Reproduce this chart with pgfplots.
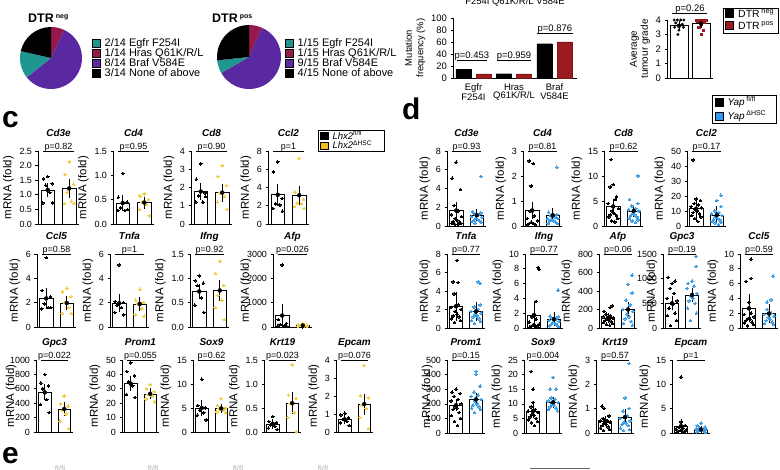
\documentclass[border=0pt]{standalone}
\usepackage{fontspec}
\setmainfont{Liberation Sans}
\usepackage{pgfplots}
\pgfplotsset{compat=1.18}
\definecolor{cteal}{HTML}{1F968F}
\definecolor{cmag}{HTML}{96194B}
\definecolor{cpur}{HTML}{5A28A0}
\definecolor{cred}{HTML}{9B1B1E}
\definecolor{cyel}{HTML}{F2CF45}
\definecolor{cyelL}{HTML}{F5BC14}
\definecolor{cblu}{HTML}{3A9FE8}
\definecolor{cbluL}{HTML}{2F98F0}
\newcommand\ply{1.0}
\pgfplotsset{
  every axis/.append style={/pgf/number format/assume math mode=true},
  mini/.style={scale only axis, anchor=south west, xmin=0.55, xmax=2.45, ymin=0,
    axis x line=bottom, axis y line=left, axis line style={-, line width=0.6pt},
    xtick=\empty, tick align=outside, major tick length=2.5bp,
    ytick style={line width=0.6pt, black},
    ylabel={mRNA (fold)}, ylabel style={font=\fontsize{11.5}{12}\selectfont, yshift=-1bp},
    yticklabel style={font=\fontsize{9}{9}\selectfont},
    title style={font=\fontsize{10}{11}\selectfont\bfseries\itshape, at={(0.5,1)}, anchor=base, yshift=9bp},
    scaled y ticks=false, /pgf/number format/1000 sep={},
    clip=false},
  ylat/.style={ylabel style={at={(axis description cs:#1,0.5)}, anchor=center}},
  dec/.style={yticklabel style={/pgf/number format/.cd, fixed, fixed zerofill, precision=1}},
  cA/.style={width=41bp, height=73bp},
  cB/.style={width=39bp, height=73bp},
  cC/.style={width=37bp, height=72bp},
  dA/.style={width=39bp, height=75bp},
  dB/.style={width=38bp, height=74bp},
  dC/.style={width=38bp, height=73bp},
}
\newcommand\mini[9]{%
\begin{axis}[mini,#1]
\addplot[ybar, bar width=0.64, bar shift=0pt, draw=black, fill=white, line width=0.6pt] coordinates {(1,#2) (2,#4)};
\addplot[only marks, mark=*, mark size=1.3bp, mark options={draw=black, fill=black, line width=0pt}] coordinates {#6};
\addplot[only marks, mark=*, mark size=1.3bp, mark options={draw=#8, fill=#8, line width=0pt}] coordinates {#7};
\addplot[only marks, mark=none, error bars/.cd, y dir=both, y explicit, error bar style={black, line width=0.6pt}, error mark options={black, mark size=3bp, line width=0.6pt}] coordinates {(1,#2) +- (0,#3) (2,#4) +- (0,#5)};
\draw[line width=0.6pt] (rel axis cs:0.13,\ply) -- (rel axis cs:0.87,\ply);
\node[anchor=base, inner sep=0pt, yshift=1.6bp, font=\fontsize{9}{9}\selectfont] at (rel axis cs:0.5,\ply) {#9};
\end{axis}}
% legend row: x, y-centre, colour, text, font size, square half-height
\newcommand\legrow[6]{%
\draw[fill=#3, draw=black, line width=0.4pt] (#1bp,#2bp-#6bp) rectangle (#1bp+8bp,#2bp+#6bp);
\node[anchor=base west, inner sep=0pt, font=\fontsize{#5}{#5}\selectfont] at (#1bp+12.5bp,#2bp-0.36*#5bp) {#4};}
\begin{document}
\begin{tikzpicture}
\useasboundingbox (0,0) rectangle (780bp,470bp);
% ---------------- pies ----------------
\fill[cmag] (51bp,412bp) -- ++(90:31bp) arc[start angle=90, end angle=64.29, radius=31bp] -- cycle;
\fill[cpur] (51bp,412bp) -- ++(64.29:31bp) arc[start angle=64.29, end angle=-141.43, radius=31bp] -- cycle;
\fill[cteal] (51bp,412bp) -- ++(-141.43:31bp) arc[start angle=-141.43, end angle=-192.86, radius=31bp] -- cycle;
\fill[black] (51bp,412bp) -- ++(-192.86:31bp) arc[start angle=-192.86, end angle=-270, radius=31bp] -- cycle;
\fill[cmag] (249bp,413bp) -- ++(90:32bp) arc[start angle=90, end angle=66, radius=32bp] -- cycle;
\fill[cpur] (249bp,413bp) -- ++(66:32bp) arc[start angle=66, end angle=-150, radius=32bp] -- cycle;
\fill[cteal] (249bp,413bp) -- ++(-150:32bp) arc[start angle=-150, end angle=-174, radius=32bp] -- cycle;
\fill[black] (249bp,413bp) -- ++(-174:32bp) arc[start angle=-174, end angle=-270, radius=32bp] -- cycle;
\node[anchor=base west, inner sep=0pt, font=\fontsize{12.5}{13}\selectfont\bfseries] at (28bp,447bp) {DTR\,\raisebox{4.5bp}{\fontsize{7}{8}\selectfont neg}};
\node[anchor=base west, inner sep=0pt, font=\fontsize{12.5}{13}\selectfont\bfseries] at (212bp,447bp) {DTR\,\raisebox{4.5bp}{\fontsize{7}{8}\selectfont pos}};
\legrow{92}{427}{cteal}{2/14 Egfr F254I}{11}{3.8}
\legrow{92}{417}{cmag}{1/14 Hras Q61K/R/L}{11}{3.8}
\legrow{92}{407}{cpur}{8/14 Braf V584E}{11}{3.8}
\legrow{92}{397}{black}{3/14 None of above}{11}{3.8}
\legrow{285}{427}{cteal}{1/15 Egfr F254I}{11}{3.8}
\legrow{285}{417}{cmag}{1/15 Hras Q61K/R/L}{11}{3.8}
\legrow{285}{407}{cpur}{9/15 Braf V584E}{11}{3.8}
\legrow{285}{397}{black}{4/15 None of above}{11}{3.8}
% ---------------- mutation frequency ----------------
\node[anchor=base, inner sep=0pt, font=\fontsize{9.5}{10}\selectfont] at (515bp,465bp) {F254I Q61K/R/L V584E};
\begin{axis}[scale only axis, anchor=south west, at={(453bp,392bp)}, width=124bp, height=60bp,
  xmin=-0.506, xmax=2.556, ymin=0, ymax=100, ytick={0,20,40,60,80,100},
  axis x line=bottom, axis y line=left, axis line style={-, line width=0.6pt},
  xtick={0,1,2}, xticklabels={{Egfr\\F254I},{Hras\\Q61K/R/L},{Braf\\V584E}},
  xtick style={draw=none}, xticklabel style={align=center, font=\fontsize{9.5}{8.5}\selectfont},
  yticklabel style={font=\fontsize{9.5}{9}\selectfont}, tick align=outside, major tick length=2.5bp,
  ytick style={line width=0.6pt, black},
  ylabel={Mutation\\frequency (\%)}, ylabel style={align=center, font=\fontsize{9.5}{11.5}\selectfont, yshift=-1bp},
  clip=false]
\addplot[ybar, bar width=0.37, bar shift=-0.25, fill=black, draw=black] coordinates {(0,14.29) (1,7.14) (2,57.14)};
\addplot[ybar, bar width=0.37, bar shift=0.25, fill=cred, draw=cred!80!black] coordinates {(0,6.67) (1,6.67) (2,60)};
\draw[line width=0.6pt] (axis cs:-0.407,30) -- (axis cs:0.333,30);
\draw[line width=0.6pt] (axis cs:0.58,30) -- (axis cs:1.42,30);
\draw[line width=0.6pt] (axis cs:1.568,75) -- (axis cs:2.457,75);
\node[anchor=base, inner sep=0pt, yshift=1.8bp, font=\fontsize{9.5}{9}\selectfont] at (axis cs:-0.04,30) {p=0.453};
\node[anchor=base, inner sep=0pt, yshift=1.8bp, font=\fontsize{9.5}{9}\selectfont] at (axis cs:1.0,30) {p=0.959};
\node[anchor=base, inner sep=0pt, yshift=1.8bp, font=\fontsize{9.5}{9}\selectfont] at (axis cs:2.01,75) {p=0.876};
\end{axis}
% ---------------- tumour grade ----------------
\begin{axis}[scale only axis, anchor=south west, at={(667bp,392bp)}, width=46bp, height=58bp,
  xmin=0.455, xmax=2.545, ymin=0, ymax=4, ytick={0,1,2,3,4}, xtick=\empty,
  axis x line=bottom, axis y line=left, axis line style={-, line width=0.6pt},
  yticklabel style={font=\fontsize{9.5}{9}\selectfont}, tick align=outside, major tick length=2.5bp,
  ytick style={line width=0.6pt, black},
  ylabel={Average\\tumour grade}, ylabel style={align=center, font=\fontsize{10}{11}\selectfont, yshift=-1bp},
  clip=false]
\addplot[ybar, bar width=0.82, bar shift=0pt, draw=black, fill=white, line width=0.6pt] coordinates {(1,3.6) (2,3.75)};
\addplot[only marks, mark=*, mark size=1.3bp, mark options={draw=black, fill=black}] coordinates {(0.78,4)(0.92,4)(1.08,4)(1.22,4)(0.85,3.8)(1.15,3.7)(1.0,3.6)(0.8,3.5)(1.2,3.5)(1.0,3.3)(0.95,3.0)};
\addplot[only marks, mark=square*, mark size=1.2bp, mark options={draw=cred, fill=cred}] coordinates {(1.78,4)(1.89,4)(2.0,4)(2.11,4)(2.22,4)(1.85,3.9)(2.15,3.85)(2.0,3.7)(1.9,3.5)(2.1,3.3)(2.0,3.0)};
\addplot[only marks, mark=none, error bars/.cd, y dir=both, y explicit, error bar style={black, line width=0.6pt}, error mark options={black, mark size=3bp, line width=0.6pt}] coordinates {(1,3.6) +- (0,0.1) (2,3.75) +- (0,0.09)};
\draw[line width=0.6pt] (axis cs:0.68,4.48) -- (axis cs:2.27,4.48);
\node[anchor=base, inner sep=0pt, yshift=1.8bp, font=\fontsize{9.5}{9}\selectfont] at (axis cs:1.5,4.48) {p=0.26};
\end{axis}
\draw[line width=0.5pt] (723bp,437bp) rectangle (778bp,462bp);
\legrow{725.5}{456.5}{black}{DTR\,\textsuperscript{neg}}{10.5}{3.8}
\legrow{725.5}{444.5}{cred}{DTR\,\textsuperscript{pos}}{10.5}{3.8}
% ---------------- panel letters ----------------
\node[anchor=base west, inner sep=0pt, font=\fontsize{30}{30}\selectfont\bfseries] at (2bp,342bp) {c};
\node[anchor=base west, inner sep=0pt, font=\fontsize{30}{30}\selectfont\bfseries] at (402bp,350bp) {d};
\node[anchor=base west, inner sep=0pt, font=\fontsize{30}{30}\selectfont\bfseries] at (2bp,7bp) {e};
\foreach \xx in {60,153,238,323} {\node[anchor=north, inner sep=0pt, text=black!30, font=\fontsize{8}{8}\selectfont] at (\xx bp,4bp) {fl/fl};}
\draw[black!60, line width=0.6pt] (530bp,2bp) -- (590bp,2bp);
% ---------------- legends c, d ----------------
\draw[line width=0.5pt] (318bp,318.5bp) rectangle (384bp,340bp);
\legrow{320}{334}{black}{\textit{Lhx2}\textsuperscript{fl/fl}}{9.5}{3.4}
\legrow{320}{324.5}{cyelL}{\textit{Lhx2}\textsuperscript{ΔHSC}}{9.5}{3.4}
\draw[line width=0.5pt] (712bp,347bp) rectangle (776bp,375bp);
\legrow{715}{368}{black}{\textit{Yap}\,\textsuperscript{fl/fl}}{10}{3.8}
\legrow{715}{354}{cbluL}{\textit{Yap}\,\textsuperscript{ΔHSC}}{10}{3.8}
% ---------------- panel c row 1 ----------------
\mini{cA, at={(38bp,246bp)}, ymax=2.5, ytick={0,0.5,1,1.5,2,2.5}, dec, title=Cd3e}{1.17}{0.13}{1.22}{0.21}
{(1.0,1.62)(0.8,1.55)(1.2,1.38)(0.9,1.33)(1.1,1.08)(0.78,0.72)(1.22,0.72)}
{(2.0,2.13)(1.8,1.70)(2.2,1.36)(1.9,1.09)(2.1,0.78)(1.78,0.7)(2.22,0.7)}{cyel}{p=0.82}
\mini{cA, at={(113bp,246bp)}, ymax=1.5, ytick={0,0.5,1,1.5}, dec, title=Cd4}{0.43}{0.1}{0.44}{0.06}
{(1.0,1.04)(0.8,0.55)(1.2,0.45)(0.9,0.33)(1.1,0.28)(0.78,0.28)(1.22,0.3)}
{(2.0,0.62)(1.8,0.58)(2.2,0.5)(1.9,0.45)(2.1,0.4)(1.78,0.3)(2.22,0.17)}{cyel}{p=0.95}
\mini{cA, at={(191bp,246bp)}, ymax=4, ytick={0,1,2,3,4}, title=Cd8}{1.78}{0.3}{1.72}{0.33}
{(1.0,3.3)(0.8,2.45)(1.2,1.7)(0.9,1.55)(1.1,1.2)(0.78,1.2)(1.22,1.5)}
{(2.0,3.2)(1.8,2.6)(2.2,2.1)(1.9,1.7)(2.1,1.5)(1.78,1.2)(2.22,0.8)}{cyel}{p=0.90}
\mini{cA, at={(268bp,246bp)}, ymax=8, ytick={0,2,4,6,8}, title=Ccl2}{3.2}{0.85}{3.15}{0.72}
{(1.0,6.8)(0.8,5.7)(1.2,2.8)(0.9,2.2)(1.1,2.1)(0.78,1.7)(1.22,1.4)}
{(2.0,7.2)(1.8,3.5)(2.2,2.7)(1.9,2.3)(2.1,2.2)(1.78,1.9)(2.22,1.7)}{cyel}{p=1}
% ---------------- panel c row 2 ----------------
\mini{cB, at={(37bp,143bp)}, ymax=6, ytick={0,2,4,6}, title=Ccl5}{2.35}{0.6}{1.97}{0.35}
{(1.0,5.7)(0.8,3.0)(1.2,2.5)(0.9,1.9)(1.1,1.6)(0.78,1.5)(1.22,1.6)}
{(2.0,3.2)(1.8,2.9)(2.2,2.5)(1.9,2.0)(2.1,1.6)(1.78,1.1)(2.22,1.1)}{cyel}{p=0.58}
\mini{cB, at={(110bp,143bp)}, ymax=6, ytick={0,2,4,6}, title=Tnfa}{1.95}{0.5}{1.9}{0.3}
{(1.0,5.1)(0.8,2.1)(1.2,2.0)(0.9,1.8)(1.1,1.6)(0.78,1.2)(1.22,1.0)}
{(2.0,3.1)(1.8,2.2)(2.2,2.0)(1.9,1.9)(2.1,1.5)(1.78,1.0)(2.22,0.9)}{cyel}{p=1}
\mini{cB, at={(190bp,143bp)}, ymax=1.5, ytick={0,0.5,1,1.5}, dec, title=Ifng}{0.73}{0.1}{0.75}{0.15}
{(1.0,1.05)(0.8,0.95)(1.2,0.9)(0.9,0.85)(1.1,0.6)(0.78,0.45)(1.22,0.3)}
{(2.0,1.35)(1.8,1.1)(2.2,0.85)(1.9,0.65)(2.1,0.55)(1.78,0.4)(2.22,0.15)}{cyel}{p=0.92}
\mini{cB, at={(273bp,143bp)}, ymax=3000, ytick={0,1000,2000,3000}, ylat=-0.72, title=Afp}{470}{340}{60}{20}
{(1.0,2550)(0.8,300)(1.2,150)(0.9,100)(1.1,50)(0.78,30)(1.22,20)}
{(2.0,150)(1.8,100)(2.2,80)(1.9,60)(2.1,50)(1.78,40)(2.22,30)}{cyel}{p=0.026}
% ---------------- panel c row 3 ----------------
\mini{cC, at={(36bp,38bp)}, ymax=1000, ytick={0,200,400,600,800,1000}, ylat=-0.7, title=Gpc3}{550}{70}{320}{60}
{(1.0,800)(0.8,680)(1.2,640)(0.9,600)(1.1,450)(0.78,380)(1.22,270)}
{(2.0,500)(1.8,390)(2.2,360)(1.9,300)(2.1,250)(1.78,150)(2.22,50)}{cyel}{p=0.022}
\mini{cC, at={(122bp,38bp)}, ymax=50, ytick={0,10,20,30,40,50}, title=Prom1}{33.5}{3}{26.5}{1.7}
{(1.0,48)(0.8,42)(1.2,39)(0.9,35)(1.1,32)(0.78,26)(1.22,24)}
{(2.0,33)(1.8,30)(2.2,28)(1.9,26)(2.1,25)(1.78,23)(2.22,21)}{cyel}{p=0.055}
\mini{cC, at={(193bp,38bp)}, ymax=15, ytick={0,5,10,15}, title=Sox9}{5}{1.1}{4.9}{0.35}
{(1.0,11)(0.8,5.5)(1.2,5)(0.9,4.5)(1.1,4)(0.78,3.5)(1.22,2.5)}
{(2.0,7)(1.8,5.5)(2.2,5)(1.9,4.8)(2.1,4.5)(1.78,4.2)(2.22,4)}{cyel}{p=0.62}
\mini{cC, at={(264bp,38bp)}, ymax=1.5, ytick={0,0.5,1,1.5}, dec, title=Krt19}{0.17}{0.04}{0.6}{0.17}
{(1.0,0.32)(0.8,0.22)(1.2,0.2)(0.9,0.15)(1.1,0.12)(0.78,0.08)(1.22,0.05)}
{(2.0,1.4)(1.8,0.77)(2.2,0.7)(1.9,0.6)(2.1,0.4)(1.78,0.3)(2.22,0.0)}{cyel}{p=0.023}
\mini{cC, at={(336bp,38bp)}, ymax=4, ytick={0,1,2,3,4}, title=Epcam}{0.7}{0.08}{1.55}{0.42}
{(1.0,1.05)(0.8,0.95)(1.2,0.8)(0.9,0.7)(1.1,0.6)(0.78,0.5)(1.22,0.35)}
{(2.0,3.7)(1.8,2.0)(2.2,1.9)(1.9,1.5)(2.1,1.3)(1.78,0.8)(2.22,0.2)}{cyel}{p=0.076}
% ---------------- panel d row 1 ----------------
\mini{dA, at={(447bp,244bp)}, ymax=8, ytick={0,2,4,6,8}, title=Cd3e}{1.65}{0.55}{1.15}{0.35}
{(1,6.8)(0.8,5.1)(1.2,3.9)(0.9,2.2)(1.1,1.6)(0.75,1.2)(1.25,1.0)(0.95,0.8)(1.05,0.6)(0.85,0.5)(1.15,0.4)(0.78,0.3)(1.22,0.3)(0.92,0.2)(1.08,0.2)}
{(2.2,5.3)(1.8,1.5)(2.2,1.4)(1.9,1.3)(2.1,1.2)(1.75,1.0)(2.25,0.9)(1.95,0.8)(2.05,0.7)(1.85,0.6)(2.15,0.5)(1.78,0.5)(2.22,0.4)(1.92,0.3)}{cblu}{p=0.93}
\mini{dA, at={(523bp,244bp)}, ymax=3, ytick={0,1,2,3}, title=Cd4}{0.62}{0.23}{0.43}{0.16}
{(0.85,2.6)(1.05,2.5)(0.95,1.6)(0.9,0.6)(1.1,0.4)(0.75,0.3)(1.25,0.2)(0.95,0.15)(1.05,0.1)(0.85,0.1)(1.15,0.05)(0.78,0.05)}
{(2.2,2.35)(1.8,0.55)(2.2,0.45)(1.9,0.4)(2.1,0.35)(1.75,0.3)(2.25,0.3)(1.95,0.25)(2.05,0.2)(1.85,0.2)(2.15,0.15)(1.78,0.1)(2.22,0.1)}{cblu}{p=0.81}
\mini{dA, at={(604bp,244bp)}, ymax=15, ytick={0,5,10,15}, title=Cd8}{3.9}{0.9}{3.0}{0.65}
{(0.9,13.3)(1.0,8.3)(0.85,7.8)(1.15,5.8)(1.1,5.3)(0.75,4.5)(1.25,3.5)(0.95,3.0)(1.05,2.5)(0.85,2.2)(1.15,2.0)(0.78,1.8)(1.22,1.5)(0.92,1.0)(1.08,0.8)}
{(2.2,10)(1.8,5.3)(2.2,4.5)(1.9,4.0)(2.1,3.5)(1.75,3.2)(2.25,3.0)(1.95,2.5)(2.05,2.2)(1.85,2.0)(2.15,1.8)(1.78,1.5)(2.22,1.2)(1.92,1.0)(2.08,0.7)}{cblu}{p=0.62}
\mini{dA, at={(687bp,244bp)}, ymax=50, ytick={0,10,20,30,40,50}, title=Ccl2}{11.5}{6}{7.3}{4}
{(0.85,44)(1.0,18)(1.2,17)(0.9,15)(1.1,14)(0.75,13)(1.25,12)(0.95,11)(1.05,10)(0.85,9)(1.15,8)(0.78,7)(1.22,6)(0.92,5)(1.08,3)}
{(2.2,20.5)(2.0,17)(2.2,13)(1.9,10)(2.1,9)(1.75,8)(2.25,7)(1.95,6)(2.05,5)(1.85,4.5)(2.15,4)(1.78,3)(2.22,2.5)(1.92,2)(2.08,1)}{cblu}{p=0.17}
% ---------------- panel d row 2 ----------------
\mini{dB, at={(447bp,142bp)}, ymax=8, ytick={0,2,4,6,8}, title=Tnfa}{2.35}{1.25}{1.8}{0.7}
{(1.05,7.3)(0.85,5.0)(1.1,4.9)(0.9,3.7)(1.1,2.5)(0.75,2.2)(1.25,2.0)(0.95,1.8)(1.05,1.5)(0.85,1.3)(1.15,1.2)(0.78,1.0)(1.22,0.8)(0.92,0.6)}
{(2.1,5.0)(2.2,4.8)(2.2,2.5)(1.9,2.3)(2.1,2.0)(1.75,1.8)(2.25,1.6)(1.95,1.5)(2.05,1.3)(1.85,1.2)(2.15,1.0)(1.78,0.8)(2.22,0.7)(1.92,0.5)}{cblu}{p=0.77}
\mini{dB, at={(525bp,142bp)}, ymax=10, ytick={0,2,4,6,8,10}, title=Ifng}{1.75}{1.5}{1.2}{0.5}
{(1.2,8.2)(1.25,7.9)(1.1,3.6)(0.9,1.5)(1.1,1.2)(0.75,0.8)(1.25,0.5)(0.95,0.4)(1.05,0.3)(0.85,0.2)(1.15,0.2)(0.78,0.1)(1.22,0.1)}
{(2.2,5.1)(1.8,1.6)(2.2,1.5)(1.9,1.3)(2.1,1.2)(1.75,1.0)(2.25,0.9)(1.95,0.8)(2.05,0.6)(1.85,0.5)(2.15,0.4)(1.78,0.3)(2.22,0.2)}{cblu}{p=0.77}
\mini{dB, at={(599bp,142bp)}, ymax=800, ytick={0,200,400,600,800}, title=Afp}{110}{20}{200}{50}
{(1.2,240)(1.1,220)(0.8,180)(0.9,150)(1.1,130)(0.75,120)(1.25,110)(0.95,100)(1.05,90)(0.85,80)(1.15,70)(0.78,60)(1.22,50)(0.92,40)(1.08,30)}
{(2.2,570)(2.0,470)(2.2,380)(1.9,300)(2.1,250)(1.75,200)(2.25,180)(1.95,150)(2.05,120)(1.85,100)(2.15,70)(1.78,50)(2.22,30)}{cblu}{p=0.06}
\mini{dB, at={(663bp,142bp)}, ymax=1500, ytick={0,500,1000,1500}, ylat=-0.32, title=Gpc3}{500}{80}{670}{90}
{(0.8,1020)(1.15,950)(1.0,900)(0.9,800)(1.1,700)(0.75,600)(1.25,550)(0.95,500)(1.05,480)(0.85,400)(1.15,300)(0.78,250)(1.22,150)(0.92,50)}
{(2.2,1450)(2.2,1250)(2.0,950)(1.8,900)(2.1,850)(1.75,800)(2.25,700)(1.95,650)(2.05,600)(1.85,550)(2.15,500)(1.78,400)(2.22,300)(1.92,150)}{cblu}{p=0.19}
\mini{dB, at={(740bp,142bp)}, ymax=10, ytick={0,2,4,6,8,10}, title=Ccl5}{2.65}{1.5}{1.95}{0.9}
{(1.1,9.3)(1.1,6.7)(0.85,6.3)(1.0,3.5)(1.1,2.0)(0.75,1.8)(1.25,1.5)(0.95,1.3)(1.05,1.2)(0.85,1.0)(1.15,0.8)(0.78,0.7)(1.22,0.5)(0.92,0.3)}
{(2.2,7.0)(2.1,3.8)(1.9,3.5)(1.9,2.5)(2.1,2.0)(1.75,1.8)(2.25,1.6)(1.95,1.4)(2.05,1.2)(1.85,1.0)(2.15,0.8)(1.78,0.6)(2.22,0.5)}{cblu}{p=0.59}
% ---------------- panel d row 3 ----------------
\mini{dC, at={(447bp,37bp)}, ymax=500, ytick={0,100,200,300,400,500}, ylat=-0.55, title=Prom1}{190}{20}{230}{25}
{(1.0,300)(0.8,280)(1.2,270)(0.9,250)(1.1,230)(0.75,220)(1.25,200)(0.95,180)(1.05,170)(0.85,160)(1.15,140)(0.78,120)(1.22,100)(0.92,80)(1.08,50)}
{(2.0,420)(2.0,400)(2.2,320)(1.9,280)(2.1,260)(1.75,250)(2.25,230)(1.95,220)(2.05,200)(1.85,190)(2.15,180)(1.78,170)(2.22,160)(1.92,140)}{cblu}{p=0.15}
\mini{dC, at={(524bp,37bp)}, ymax=25, ytick={0,5,10,15,20,25}, title=Sox9}{7.5}{1.3}{10.5}{0.8}
{(0.9,21)(1.0,15)(1.0,10.5)(0.9,9)(1.1,8)(0.75,7.5)(1.25,7)(0.95,6.5)(1.05,6)(0.85,5.5)(1.15,5)(0.78,4.5)(1.22,4)(0.92,3.5)(1.08,2.5)}
{(2.0,19)(1.85,15)(2.15,15)(1.9,12)(2.1,11.5)(1.75,11)(2.25,10.5)(1.95,10)(2.05,9.5)(1.85,9)(2.15,8.5)(1.78,8)(2.22,7.5)}{cblu}{p=0.004}
\mini{dC, at={(596bp,37bp)}, ymax=3, ytick={0,1,2,3}, title=Krt19}{0.5}{0.08}{0.65}{0.2}
{(0.85,1.1)(0.95,1.0)(1.2,0.7)(0.9,0.6)(1.1,0.5)(0.75,0.5)(1.25,0.45)(0.95,0.4)(1.05,0.35)(0.85,0.3)(1.15,0.25)(0.78,0.2)(1.22,0.15)(0.92,0.1)}
{(2.2,2.85)(2.0,1.45)(2.2,1.0)(1.9,0.9)(2.1,0.7)(1.75,0.6)(2.25,0.5)(1.95,0.45)(2.05,0.4)(1.85,0.35)(2.15,0.3)(1.78,0.2)(2.22,0.15)(1.92,0.1)}{cblu}{p=0.57}
\mini{dC, at={(672bp,37bp)}, ymax=15, ytick={0,5,10,15}, title=Epcam}{1.4}{0.9}{0.7}{0.15}
{(1.0,11.5)(1.0,2.3)(1.2,1.5)(0.9,1.2)(1.1,1.0)(0.75,0.8)(1.25,0.6)(0.95,0.5)(1.05,0.4)(0.85,0.3)(1.15,0.2)(0.78,0.1)}
{(2.0,2.0)(1.8,1.5)(2.2,1.2)(1.9,1.0)(2.1,0.9)(1.75,0.8)(2.25,0.7)(1.95,0.6)(2.05,0.5)(1.85,0.4)(2.15,0.3)(1.78,0.2)(2.22,0.1)}{cblu}{p=1}
\end{tikzpicture}
\end{document}
